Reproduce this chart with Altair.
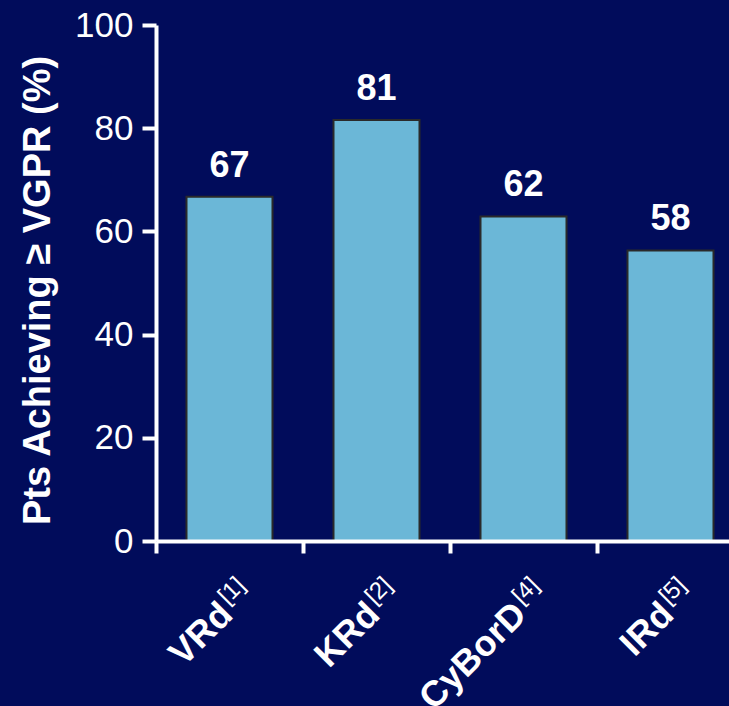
import altair as alt
import pandas as pd

categories = ["VRd", "KRd", "CyBorD", "IRd"]
superscripts = ["[1]", "[2]", "[4]", "[5]"]
bar_values = [66.7, 81.6, 62.9, 56.3]
label_texts = ["67", "81", "62", "58"]
y_ticks = [0, 20, 40, 60, 80, 100]

df = pd.DataFrame({
    "cat": categories,
    "sup": superscripts,
    "val": bar_values,
    "lab": label_texts,
    "zero": [0] * len(categories),
})

FONT = "Liberation Sans"
BG = "#010C5B"
WHITE = "#FFFFFF"

x_enc = alt.X(
    "cat:N",
    sort=categories,
    scale=alt.Scale(range=[0, 588], paddingInner=0.415, paddingOuter=0.2075),
    axis=alt.Axis(
        title=None,
        labels=False,
        bandPosition=0,
        tickOffset=-30.5,
        domainColor=WHITE,
        domainWidth=4,
        tickColor=WHITE,
        tickWidth=4,
        tickSize=12,
        zindex=1,
    ),
)

y_scale = alt.Scale(domain=[0, 100], nice=False)

bars = alt.Chart(df).mark_bar(
    color="#6BB7D7", stroke="#2A2A2A", strokeWidth=2
).encode(
    x=x_enc,
    y=alt.Y(
        "val:Q",
        scale=y_scale,
        axis=alt.Axis(
            values=y_ticks,
            title="Pts Achieving \u2265 VGPR (%)",
            titleFont=FONT,
            titleFontSize=38,
            titleFontWeight="bold",
            titleColor=WHITE,
            titleAngle=270,
            titleX=-107,
            titleY=265,
            titleAlign="center",
            titleBaseline="alphabetic",
            labelFont=FONT,
            labelFontSize=35,
            labelColor=WHITE,
            labelPadding=9,
            domainColor=WHITE,
            domainWidth=4,
            tickColor=WHITE,
            tickWidth=4,
            tickSize=14,
            grid=False,
            zindex=1,
        ),
    ),
)

value_labels = alt.Chart(df).mark_text(
    font=FONT, fontSize=36, fontWeight="bold", color=WHITE,
    baseline="alphabetic", align="center", dy=-20,
).encode(
    x=alt.X("cat:N", sort=categories),
    y=alt.Y("val:Q", scale=y_scale),
    text="lab:N",
)

cat_labels = alt.Chart(df).mark_text(
    font=FONT, fontSize=36, fontWeight="bold", color=WHITE,
    baseline="alphabetic", align="right", angle=315, dx=-50, dy=57,
).encode(
    x=alt.X("cat:N", sort=categories),
    y=alt.Y("zero:Q", scale=y_scale),
    text="cat:N",
)

sup_labels = alt.Chart(df).mark_text(
    font=FONT, fontSize=24, color=WHITE,
    baseline="alphabetic", align="left", angle=315, dx=-47, dy=44,
).encode(
    x=alt.X("cat:N", sort=categories),
    y=alt.Y("zero:Q", scale=y_scale),
    text="sup:N",
)

chart = alt.layer(bars, value_labels, cat_labels, sup_labels).properties(
    width=573,
    height=516,
    autosize=alt.AutoSizeParams(type="none"),
    padding={"left": 156, "top": 25, "right": 0, "bottom": 165},
    background=BG,
).configure_view(stroke=None)

chart.save("out.html", embed_options={"renderer": "svg", "actions": False})
